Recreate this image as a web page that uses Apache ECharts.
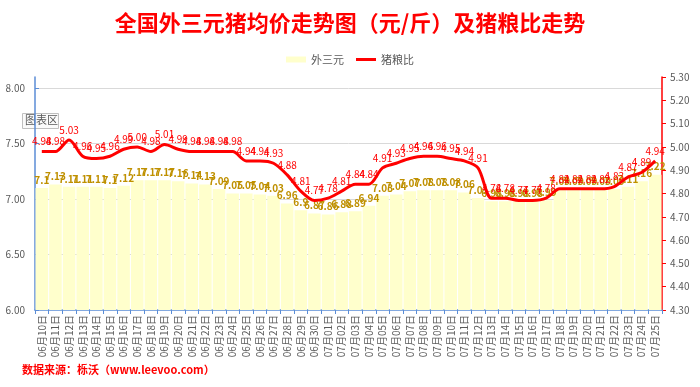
<!DOCTYPE html>
<html>
<head>
<meta charset="utf-8">
<script src="https://cdn.jsdelivr.net/npm/echarts@6/dist/echarts.min.js"></script>
<style>html,body{margin:0;padding:0;background:#fff;}#c{width:700px;height:387px;}</style>
</head>
<body>
<div id="c"></div>
<script>
const categories = ['06月10日','06月11日','06月12日','06月13日','06月14日','06月15日','06月16日','06月17日','06月18日','06月19日','06月20日','06月21日','06月22日','06月23日','06月24日','06月25日','06月26日','06月27日','06月28日','06月29日','06月30日','07月01日','07月02日','07月03日','07月04日','07月05日','07月06日','07月07日','07月08日','07月09日','07月10日','07月11日','07月12日','07月13日','07月14日','07月15日','07月16日','07月17日','07月18日','07月19日','07月20日','07月21日','07月22日','07月23日','07月24日','07月25日'];
const pigPrice = [7.1,7.13,7.11,7.11,7.11,7.1,7.12,7.17,7.17,7.17,7.16,7.14,7.13,7.09,7.05,
  7.05,7.04,7.03,6.96,6.9,6.87,6.86,6.88,6.89,6.94,7.03,7.04,7.07,7.08,7.08,7.08,7.06,
  7.01,6.98,6.98,6.98,6.98,6.99,7.09,7.09,7.09,7.09,7.09,7.11,7.16,7.22];
const pigGrainRatio = [4.98,4.98,5.03,4.96,4.95,4.96,4.99,5.00,4.98,5.01,4.99,4.98,4.98,4.98,4.98,
  4.94,4.94,4.93,4.88,4.81,4.77,4.78,4.81,4.84,4.84,4.91,4.93,4.95,4.96,4.96,4.95,4.94,4.91,
  4.78,4.78,4.77,4.77,4.78,4.82,4.82,4.82,4.82,4.83,4.87,4.89,4.94];
const leftTicks = {min: 6, max: 8.1, interval: 0.5};
const rightTicks = {min: 4.3, max: 5.3, interval: 0.1};

const font = '"Noto Sans CJK SC", "Noto Sans", sans-serif';
const chart = echarts.init(document.getElementById('c'), null, {renderer: 'canvas'});
chart.setOption({
  animation: false,
  textStyle: {fontFamily: font},
  title: {
    text: '全国外三元猪均价走势图（元/斤）及猪粮比走势',
    left: 'center', top: 7,
    textStyle: {color: '#FF0000', fontSize: 22, fontWeight: 'bold', fontFamily: font}
  },
  legend: {
    top: 49, left: 'center', itemGap: 12,
    itemWidth: 20, itemHeight: 6,
    textStyle: {color: '#595959', fontSize: 11, fontFamily: font},
    data: [
      {name: '外三元', icon: 'rect'},
      {name: '猪粮比', icon: 'path://M0,0 L20,0 L20,3 L0,3 Z'}
    ]
  },
  graphic: [
    {type: 'text', left: 22, top: 364, style: {text: '数据来源：栎沃（www.leevoo.com）', fill: '#FF0000', font: 'bold 11px ' + font}},
    {type: 'rect', left: 22, top: 113, shape: {width: 36, height: 15}, style: {fill: '#fafafa', stroke: '#bfbfbf', lineWidth: 1}},
    {type: 'text', left: 25, top: 114, style: {text: '图表区', fill: '#595959', font: '11px ' + font}}
  ],
  grid: {left: 35, right: 38, top: 77, bottom: 77},
  xAxis: {
    type: 'category', data: categories,
    axisLine: {lineStyle: {color: '#5B8DD6', width: 1.5}},
    axisTick: {show: true, length: 4, lineStyle: {color: '#5B8DD6'}},
    axisLabel: {rotate: 90, color: '#595959', fontSize: 10, interval: 0, margin: 5, fontFamily: font}
  },
  yAxis: [
    {
      type: 'value', min: leftTicks.min, max: leftTicks.max, interval: leftTicks.interval,
      axisLine: {show: true, lineStyle: {color: '#5B8DD6', width: 1.5}},
      axisTick: {show: true, inside: true, length: 4, lineStyle: {color: '#5B8DD6'}},
      axisLabel: {color: '#595959', fontSize: 10, margin: 10, showMaxLabel: false, formatter: v => v.toFixed(2)},
      splitLine: {show: true, showMaxLine: false, showMinLine: false, lineStyle: {color: '#D9D9D9', width: 1}}
    },
    {
      type: 'value', min: rightTicks.min, max: rightTicks.max, interval: rightTicks.interval,
      axisLine: {show: true, lineStyle: {color: '#FF0000', width: 1.5}},
      axisTick: {show: true, length: 4, lineStyle: {color: '#FF0000'}},
      axisLabel: {color: '#595959', fontSize: 10, margin: 8, formatter: v => v.toFixed(2)},
      splitLine: {show: false}
    }
  ],
  series: [
    {
      name: '外三元', type: 'bar', yAxisIndex: 0, data: pigPrice,
      barCategoryGap: '8%',
      itemStyle: {color: '#FFFFCC'},
      label: {show: true, position: 'top', distance: 3, color: '#BF9000', fontSize: 10, fontWeight: 'bold', formatter: p => String(p.value)}
    },
    {
      name: '猪粮比', type: 'line', yAxisIndex: 1, data: pigGrainRatio,
      smooth: 0.3, symbol: 'circle', symbolSize: 0, showSymbol: true,
      itemStyle: {color: '#FF0000'},
      lineStyle: {color: '#FF0000', width: 3},
      label: {show: true, position: 'top', distance: 5, color: '#FF0000', fontSize: 10, formatter: p => p.value.toFixed(2)},
      labelLayout: {hideOverlap: false},
      z: 3
    }
  ]
});
</script>
</body>
</html>
